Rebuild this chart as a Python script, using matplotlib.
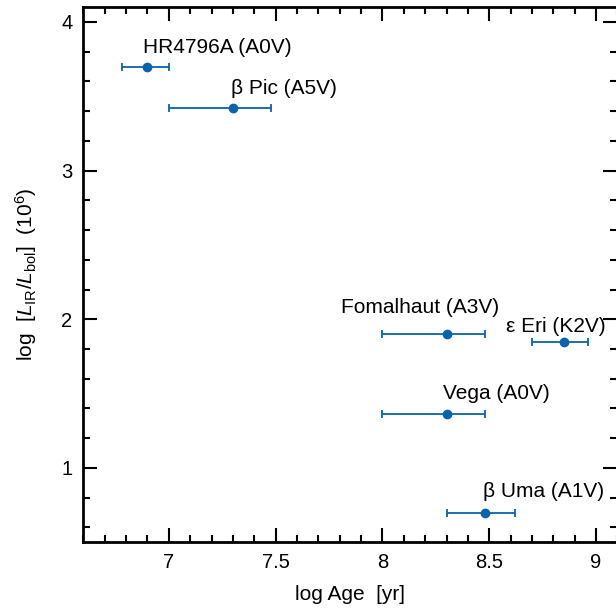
import numpy as np
import matplotlib.pyplot as plt
from matplotlib.ticker import MultipleLocator

plt.rcParams['font.family'] = ['Liberation Sans', 'DejaVu Sans']
plt.rcParams['mathtext.fontset'] = 'custom'
plt.rcParams['mathtext.rm'] = 'Liberation Sans'
plt.rcParams['mathtext.it'] = 'Liberation Sans:italic'

# debris disk stars: log age, log(L_IR/L_bol) (x 10^6), age range
names = ['HR4796A (A0V)', 'β Pic (A5V)', 'Fomalhaut (A3V)', 'ε Eri (K2V)',
         'Vega (A0V)', 'β Uma (A1V)']
log_age = np.array([6.90, 7.30, 8.30, 8.85, 8.30, 8.48])
log_lir = np.array([3.70, 3.42, 1.90, 1.85, 1.36, 0.70])
age_lo = np.array([6.78, 7.00, 8.00, 8.70, 8.00, 8.30])
age_hi = np.array([7.00, 7.48, 8.48, 8.96, 8.48, 8.62])

# label offsets (points), relative to the data point, baseline anchored
lab_dx = [50, 37, -19, -6, 36, 42]
lab_dy = [10, 10, 15, 7, 11, 11]

blue = '#0b62a9'

fig = plt.figure(figsize=(6.16, 6.10), dpi=100)
ax = fig.add_axes([0.1354, 0.111, 0.8669, 0.8774])

xerr = np.vstack([log_age - age_lo, age_hi - log_age])
ax.errorbar(log_age, log_lir, xerr=xerr, fmt='o', color=blue, ms=6,
            elinewidth=1.3, capsize=3, capthick=1.3)

for n, x, y, dx, dy in zip(names, log_age, log_lir, lab_dx, lab_dy):
    ax.annotate(n, (x, y), xytext=(dx, dy), textcoords='offset points',
                ha='center', va='baseline', fontsize=15)

ax.set_xlim(6.6, 9.1)
ax.set_ylim(0.5, 4.1)
ax.xaxis.set_major_locator(MultipleLocator(0.5))
ax.xaxis.set_minor_locator(MultipleLocator(0.1))
ax.yaxis.set_major_locator(MultipleLocator(1))
ax.yaxis.set_minor_locator(MultipleLocator(0.2))
ax.set_xticks([7, 7.5, 8, 8.5, 9])
ax.set_xticklabels(['7', '7.5', '8', '8.5', '9'])
ax.tick_params(which='both', direction='in', top=True, right=True, width=1.5,
               labelsize=14.5, pad=8)
ax.tick_params(which='major', length=10)
ax.tick_params(which='minor', length=5)
for s in ax.spines.values():
    s.set_linewidth(2)

ax.set_xlabel('log Age  [yr]', fontsize=15, labelpad=9)
ax.set_ylabel(r'log  [$L_{\rm IR}/L_{\rm bol}$]  (10$^6$)', fontsize=15, labelpad=16)

plt.savefig('out.png', dpi=100)
